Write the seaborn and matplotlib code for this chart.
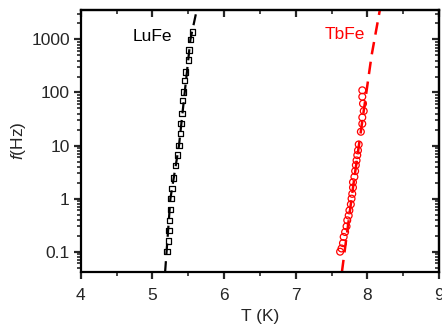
import numpy as np
import pandas as pd
import matplotlib
matplotlib.use("Agg")
import matplotlib.pyplot as plt
import seaborn as sns
from matplotlib.ticker import LogLocator, NullFormatter, MultipleLocator

# measured points (T in K, f in Hz)
lufe_T = [5.20, 5.22, 5.23, 5.24, 5.25, 5.26, 5.27, 5.29, 5.32, 5.35, 5.37,
          5.39, 5.40, 5.41, 5.42, 5.43, 5.45, 5.46, 5.50, 5.51, 5.53, 5.56]
lufe_f = [0.1, 0.16, 0.25, 0.39, 0.63, 1.0, 1.55, 2.45, 4.2, 6.6, 10,
          17, 26, 40, 71, 102, 170, 245, 410, 630, 1000, 1380]

tbfe_T = [7.62, 7.64, 7.66, 7.67, 7.69, 7.71, 7.72, 7.74, 7.75, 7.77, 7.78,
          7.79, 7.80, 7.80, 7.82, 7.83, 7.84, 7.85, 7.86, 7.87, 7.88,
          7.91, 7.93, 7.93, 7.95, 7.94, 7.93, 7.93]
tbfe_f = [0.1, 0.115, 0.145, 0.19, 0.235, 0.30, 0.39, 0.48, 0.60, 0.78, 1.0,
          1.23, 1.62, 2.04, 2.57, 3.3, 4.27, 5.25, 6.6, 8.1, 10.5,
          18.2, 25.7, 33.9, 44.7, 61.7, 83.2, 110]

# fitted curves
lufe_fit_T = [5.176, 5.25, 5.37, 5.45, 5.53, 5.62]
lufe_fit_f = [0.041, 1, 10, 100, 1000, 3700]
tbfe_fit_T = [7.645, 7.80, 7.95, 8.06, 8.18]
tbfe_fit_f = [0.041, 1.6, 45, 500, 3900]

pts = pd.DataFrame({"T": lufe_T + tbfe_T, "f": lufe_f + tbfe_f,
                    "sample": ["LuFe"] * len(lufe_T) + ["TbFe"] * len(tbfe_T)})

sns.set_style("ticks")
plt.rcParams["font.family"] = ["Liberation Sans", "DejaVu Sans"]
plt.rcParams["mathtext.fontset"] = "custom"
plt.rcParams["mathtext.it"] = "Liberation Sans:italic"
plt.rcParams["mathtext.rm"] = "Liberation Sans"

fig = plt.figure(figsize=(4.42, 3.30), dpi=100)
ax = fig.add_axes([0.183, 0.175, 0.81, 0.795])

sns.lineplot(x=lufe_fit_T, y=lufe_fit_f, ax=ax, color="black", lw=1.6,
             dashes=False, linestyle=(0, (5, 3)), estimator=None, sort=False)
sns.lineplot(x=tbfe_fit_T, y=tbfe_fit_f, ax=ax, color="red", lw=1.8,
             dashes=False, linestyle=(0, (5, 3)), estimator=None, sort=False)

sns.scatterplot(data=pts[pts["sample"] == "LuFe"], x="T", y="f", ax=ax,
                marker="s", s=15, facecolor="none", edgecolor="black",
                linewidth=0.9, zorder=3)
sns.scatterplot(data=pts[pts["sample"] == "TbFe"], x="T", y="f", ax=ax,
                marker="o", s=24, facecolor="none", edgecolor="red",
                linewidth=0.9, zorder=3)

ax.set_yscale("log")
ax.set_xlim(4, 9)
ax.set_ylim(0.041, 3600)
ax.set_yticks([0.1, 1, 10, 100, 1000])
ax.set_yticklabels(["0.1", "1", "10", "100", "1000"])
ax.yaxis.set_minor_locator(LogLocator(base=10, subs=np.arange(2, 10)))
ax.yaxis.set_minor_formatter(NullFormatter())
ax.xaxis.set_major_locator(MultipleLocator(1))
ax.xaxis.set_minor_locator(MultipleLocator(0.5))

for s in ax.spines.values():
    s.set_linewidth(1.6)
    s.set_color("black")

ax.tick_params(axis="both", which="major", direction="out", length=5, width=1.6,
               labelsize=12.5)
ax.tick_params(axis="x", which="major", pad=6)
ax.tick_params(axis="y", which="major", pad=3)
ax.tick_params(axis="both", which="minor", direction="out", length=3, width=1.2)

# mirrored ticks on top/right, pointing inward
axt = ax.secondary_xaxis("top")
axt.xaxis.set_major_locator(MultipleLocator(1))
axt.xaxis.set_minor_locator(MultipleLocator(0.5))
axt.tick_params(which="major", direction="in", length=5, width=1.6, labeltop=False)
axt.tick_params(which="minor", direction="in", length=3, width=1.2)
axt.spines["top"].set_linewidth(1.6)
axr = ax.secondary_yaxis("right")
axr.set_yticks([0.1, 1, 10, 100, 1000])
axr.yaxis.set_minor_locator(LogLocator(base=10, subs=np.arange(2, 10)))
axr.yaxis.set_minor_formatter(NullFormatter())
axr.tick_params(which="major", direction="in", length=5, width=1.6, labelright=False)
axr.tick_params(which="minor", direction="in", length=3, width=1.2)
axr.spines["right"].set_linewidth(1.6)

ax.set_xlabel("T (K)", fontsize=12.5, labelpad=5)
ax.set_ylabel("$\\it{f}$(Hz)", fontsize=12.5, labelpad=2)

ax.text(5.0, 1150, "LuFe", fontsize=12.5, color="black", ha="center", va="center")
ax.text(7.68, 1250, "TbFe", fontsize=12.5, color="red", ha="center", va="center")

fig.savefig("out.png", dpi=100)
